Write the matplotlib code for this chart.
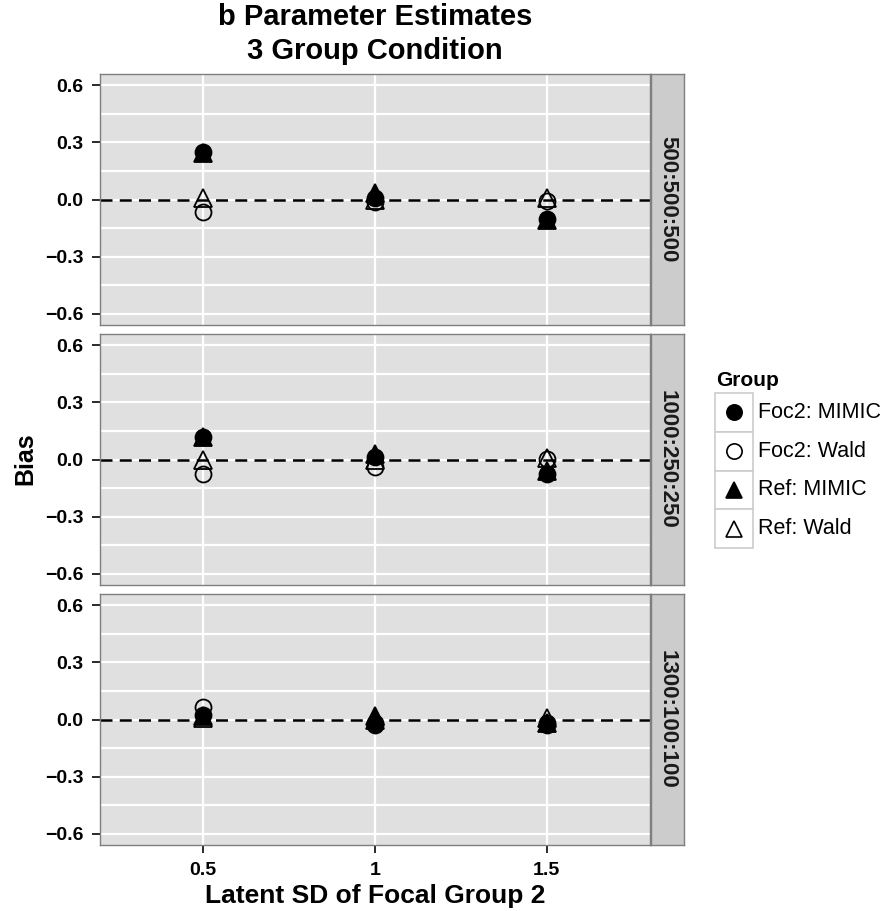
import matplotlib
matplotlib.use("Agg")
import matplotlib.pyplot as plt
from matplotlib.lines import Line2D
from matplotlib.patches import Rectangle

plt.rcParams['font.family'] = ['Liberation Sans', 'DejaVu Sans']

# ---- data ----
latent_sd = [0.5, 1.0, 1.5]
conditions = ["500:500:500", "1000:250:250", "1300:100:100"]
groups = ["Foc2: MIMIC", "Foc2: Wald", "Ref: MIMIC", "Ref: Wald"]

bias_500 = {
    "Foc2: MIMIC": [0.25, 0.01, -0.105],
    "Foc2: Wald": [-0.065, -0.015, -0.01],
    "Ref: MIMIC": [0.245, 0.035, -0.11],
    "Ref: Wald": [0.01, 0.0, 0.01],
}
bias_1000 = {
    "Foc2: MIMIC": [0.12, 0.015, -0.075],
    "Foc2: Wald": [-0.075, -0.04, 0.005],
    "Ref: MIMIC": [0.12, 0.03, -0.06],
    "Ref: Wald": [0.0, 0.0, 0.01],
}
bias_1300 = {
    "Foc2: MIMIC": [0.025, -0.03, -0.03],
    "Foc2: Wald": [0.064, -0.02, -0.02],
    "Ref: MIMIC": [0.02, 0.02, -0.02],
    "Ref: Wald": [0.01, 0.0, 0.01],
}
panel_data = [bias_500, bias_1000, bias_1300]

y_ticks = [-0.6, -0.3, 0.0, 0.3, 0.6]
y_ticklabels = ["\u22120.6", "\u22120.3", "0.0", "0.3", "0.6"]
x_ticks = [0.5, 1.0, 1.5]
x_ticklabels = ["0.5", "1", "1.5"]

marker_style = {
    "Foc2: MIMIC": dict(marker="o", mfc="black", ms=11.5),
    "Foc2: Wald": dict(marker="o", mfc="none", ms=11.5),
    "Ref: MIMIC": dict(marker="^", mfc="black", ms=12.5),
    "Ref: Wald": dict(marker="^", mfc="none", ms=12.5),
}

W, H = 888, 911
fig = plt.figure(figsize=(W / 100, H / 100), dpi=100)

left, right = 100, 650
strip_l, strip_r = 651, 684
panel_rows = [(74, 325), (334, 585), (594, 845)]

def fx(px):
    return px / W

def fy(py):
    return 1 - py / H

bg = "#E0E0E0"
for i, (top, bot) in enumerate(panel_rows):
    ax = fig.add_axes([fx(left), fy(bot), fx(right - left), (bot - top) / H])
    ax.set_facecolor(bg)
    ax.set_xlim(0.2, 1.8)
    ax.set_ylim(-0.66, 0.66)
    for y in [-0.6, -0.45, -0.3, -0.15, 0.0, 0.15, 0.3, 0.45, 0.6]:
        ax.axhline(y, color="white", lw=1.6, zorder=0.5)
    for x in x_ticks:
        ax.axvline(x, color="white", lw=1.6, zorder=0.5)
    ax.axhline(0, color="black", lw=1.8, ls=(0, (4.8, 2.9)), zorder=1)
    d = panel_data[i]
    for g in groups:
        st = marker_style[g]
        ax.plot(latent_sd, d[g], ls="none", marker=st["marker"],
                mfc=st["mfc"], mec="black", mew=1.3, ms=st["ms"], zorder=3)
    ax.set_yticks(y_ticks)
    ax.set_yticklabels(y_ticklabels, fontsize=14, fontweight="bold")
    ax.set_xticks(x_ticks)
    if i == 2:
        ax.set_xticklabels(x_ticklabels, fontsize=14, fontweight="bold")
        ax.tick_params(axis="x", length=5.8, color="#1A1A1A", width=1.3, pad=6.5)
    else:
        ax.set_xticklabels([])
        ax.tick_params(axis="x", length=0)
    ax.tick_params(axis="y", length=5.8, color="#1A1A1A", width=1.3, pad=6)
    for s in ax.spines.values():
        s.set_edgecolor("#7F7F7F")
        s.set_linewidth(1.0)
    # strip
    sax = fig.add_axes([fx(strip_l), fy(bot), fx(strip_r - strip_l), (bot - top) / H])
    sax.set_facecolor("#CCCCCC")
    sax.set_xticks([])
    sax.set_yticks([])
    for s in sax.spines.values():
        s.set_edgecolor("#7F7F7F")
        s.set_linewidth(1.0)
    sax.text(0.5, 0.5, conditions[i], rotation=270, ha="center", va="center",
             fontsize=16, fontweight="bold", color="#1A1A1A", transform=sax.transAxes)

cx = fx((left + right) / 2)
fig.text(cx, fy(17), "b Parameter Estimates", ha="center", va="center",
         fontsize=21, fontweight="bold")
fig.text(cx, fy(51), "3 Group Condition", ha="center", va="center",
         fontsize=21, fontweight="bold")
fig.text(cx, fy(896), "Latent SD of Focal Group 2",
         ha="center", va="center", fontsize=19, fontweight="bold")
fig.text(fx(25), fy(459), "Bias", rotation=90, ha="center", va="center",
         fontsize=18, fontweight="bold")

# legend
fig.text(fx(716), fy(381), "Group", ha="left", va="center", fontsize=15, fontweight="bold")
key_l, key_w, key_h, key_top = 715, 38, 38.75, 393
for k, g in enumerate(groups):
    t = key_top + k * key_h
    fig.patches.append(Rectangle((fx(key_l), fy(t + key_h)), fx(key_w), key_h / H,
                                 transform=fig.transFigure, facecolor="white",
                                 edgecolor="#CCCCCC", lw=1.2))
    st = marker_style[g]
    fig.add_artist(Line2D([fx(key_l + key_w / 2)], [fy(t + key_h / 2)],
                          transform=fig.transFigure, ls="none", marker=st["marker"],
                          mfc=st["mfc"], mec="black", mew=1.2, ms=st["ms"] - 0.5))
    fig.text(fx(key_l + key_w + 5), fy(t + key_h / 2), g, ha="left", va="center",
             fontsize=15.5)

fig.savefig("out.png", dpi=100)
